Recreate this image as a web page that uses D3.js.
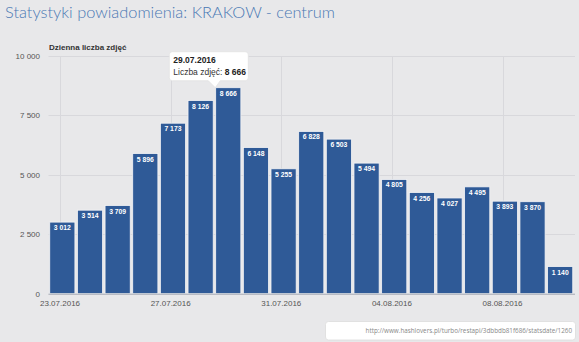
<!DOCTYPE html>
<html>
<head>
<meta charset="utf-8">
<script src="https://cdn.jsdelivr.net/npm/d3@7"></script>
<style>
  html, body { margin: 0; padding: 0; background: #e8e8ea; }
  svg { display: block; }
</style>
</head>
<body>
<svg id="chart" width="579" height="342"></svg>
<script>
// Daily photo counts, 23.07.2016 – 10.08.2016
const days = [
  "2016-07-23", "2016-07-24", "2016-07-25", "2016-07-26", "2016-07-27",
  "2016-07-28", "2016-07-29", "2016-07-30", "2016-07-31", "2016-08-01",
  "2016-08-02", "2016-08-03", "2016-08-04", "2016-08-05", "2016-08-06",
  "2016-08-07", "2016-08-08", "2016-08-09", "2016-08-10"
];
const counts = [
  3012, 3514, 3709, 5896, 7173, 8126, 8666, 6148, 5255, 6828,
  6503, 5494, 4805, 4256, 4027, 4495, 3893, 3870, 1140
];
const yTicks = [0, 2500, 5000, 7500, 10000];
const xTickLabels = ["23.07.2016", "27.07.2016", "31.07.2016", "04.08.2016", "08.08.2016"];
const tooltipIndex = 6;

const svg = d3.select("#chart");
const plot = { left: 48.5, right: 574, top: 56, bottom: 293.7 };

// Points sit at local midnight (CEST, UTC+2); ticks fall on UTC midnight.
const HOUR = 3600 * 1000;
const dayStart = s => new Date(Date.parse(s + "T00:00:00Z"));
const times = days.map(s => new Date(+dayStart(s) + 2 * HOUR));

const x = d3.scaleUtc()
  .domain([new Date(+times[0] - 12 * HOUR), new Date(+times[times.length - 1] + 12 * HOUR)])
  .range([plot.left, plot.right]);
const dayWidth = x(new Date(+times[0] + 24 * HOUR)) - x(times[0]);
const barW = dayWidth * 0.91;

const y = d3.scaleLinear().domain([0, 10000]).range([plot.bottom, plot.top]);

const fmt = v => d3.format(",")(v).replace(/,/g, " ");
const parseLabel = d3.utcParse("%d.%m.%Y");
const dateFmt = d3.utcFormat("%d.%m.%Y");
const tickDates = xTickLabels.map(parseLabel);

// Title, sized to its line width
const title = svg.append("text")
  .attr("x", 5).attr("y", 18)
  .attr("fill", "#4a78b4")
  .attr("font-family", "Lato, 'Open Sans', sans-serif")
  .attr("font-weight", 300)
  .attr("font-size", 18)
  .text("Statystyki powiadomienia: KRAKOW - centrum");
const tw = title.node().getComputedTextLength();
title.attr("font-size", 18 * 330 / tw);

const g = svg.append("g");

// Horizontal grid
g.selectAll("line.hgrid").data(yTicks).join("line")
  .attr("x1", plot.left).attr("x2", plot.right + 1)
  .attr("y1", d => Math.round(y(d)) + 0.5).attr("y2", d => Math.round(y(d)) + 0.5)
  .attr("stroke", "#d8d8dc").attr("stroke-width", 1);

// Vertical grid at date ticks
g.selectAll("line.vgrid").data(tickDates).join("line")
  .attr("x1", d => Math.round(x(d)) + 0.5).attr("x2", d => Math.round(x(d)) + 0.5)
  .attr("y1", plot.top).attr("y2", plot.bottom)
  .attr("stroke", "#d8d8dc").attr("stroke-width", 1);

// Y axis labels
g.selectAll("text.ylab").data(yTicks).join("text")
  .attr("x", 40).attr("y", d => y(d)).attr("dy", "0.35em")
  .attr("text-anchor", "end")
  .attr("font-family", "Liberation Sans, Arial, sans-serif")
  .attr("font-size", 8).attr("fill", "#555")
  .text(fmt);

// Axis title
svg.append("text")
  .attr("x", 49).attr("y", 50)
  .attr("font-family", "Liberation Sans, Arial, sans-serif")
  .attr("font-size", 8).attr("font-weight", "bold").attr("fill", "#333")
  .text("Dzienna liczba zdjęć");

// Bars
g.selectAll("rect.bar").data(counts).join("rect")
  .attr("x", (d, i) => x(times[i]) - barW / 2)
  .attr("y", d => y(d))
  .attr("width", barW)
  .attr("height", d => y(0) - y(d))
  .attr("fill", "#2f5a97")
  .attr("stroke", "#f4f4f6").attr("stroke-width", 0.8);

// Data labels
g.selectAll("text.dl").data(counts).join("text")
  .attr("x", (d, i) => x(times[i]))
  .attr("y", d => y(d) + 8)
  .attr("text-anchor", "middle")
  .attr("font-family", "Liberation Sans, Arial, sans-serif")
  .attr("font-size", 6.8).attr("font-weight", "bold")
  .attr("fill", "#fff")
  .text(fmt);

// X axis line
g.append("line")
  .attr("x1", plot.left).attr("x2", plot.right + 1)
  .attr("y1", plot.bottom + 0.5).attr("y2", plot.bottom + 0.5)
  .attr("stroke", "#a8adb8").attr("stroke-width", 1);

// X axis labels
g.selectAll("text.xlab").data(tickDates).join("text")
  .attr("x", d => x(d)).attr("y", 306)
  .attr("text-anchor", "middle")
  .attr("font-family", "Liberation Sans, Arial, sans-serif")
  .attr("font-size", 8).attr("fill", "#555")
  .text((d, i) => xTickLabels[i]);

// Tooltip for the peak day
const tipX = x(times[tooltipIndex]) - 13;
const tipY = y(counts[tooltipIndex]);
const bw = 79, bh = 29, r = 3;
const bx = tipX - 46, by = tipY - 7 - bh;
const tipPath = d3.path();
tipPath.moveTo(bx + r, by);
tipPath.lineTo(bx + bw - r, by);
tipPath.arcTo(bx + bw, by, bx + bw, by + r, r);
tipPath.lineTo(bx + bw, by + bh - r);
tipPath.arcTo(bx + bw, by + bh, bx + bw - r, by + bh, r);
tipPath.lineTo(tipX + 5, by + bh);
tipPath.lineTo(tipX, tipY);
tipPath.lineTo(tipX - 7, by + bh);
tipPath.lineTo(bx + r, by + bh);
tipPath.arcTo(bx, by + bh, bx, by + bh - r, r);
tipPath.lineTo(bx, by + r);
tipPath.arcTo(bx, by, bx + r, by, r);
tipPath.closePath();

const tip = svg.append("g");
tip.append("path").attr("d", tipPath.toString())
  .attr("fill", "#ffffff").attr("stroke", "#e2e2e2").attr("stroke-width", 0.8);
tip.append("text")
  .attr("x", bx + 4).attr("y", by + 11)
  .attr("font-family", "Liberation Sans, Arial, sans-serif")
  .attr("font-size", 8.5).attr("font-weight", "bold").attr("fill", "#222")
  .text(dateFmt(dayStart(days[tooltipIndex])));
const t2 = tip.append("text")
  .attr("x", bx + 4).attr("y", by + 23)
  .attr("font-family", "Liberation Sans, Arial, sans-serif")
  .attr("font-size", 8.5).attr("fill", "#333");
t2.append("tspan").text("Liczba zdjęć: ");
t2.append("tspan").attr("font-weight", "bold").attr("fill", "#222").text(fmt(counts[tooltipIndex]));

// Source URL box
svg.append("rect")
  .attr("x", 325.5).attr("y", 321.5).attr("width", 250).attr("height", 18.5)
  .attr("rx", 3)
  .attr("fill", "#ffffff").attr("stroke", "#dcdcdc").attr("stroke-width", 0.8);
svg.append("text")
  .attr("x", 572).attr("y", 331).attr("dy", "0.35em")
  .attr("text-anchor", "end")
  .attr("font-family", "'Open Sans', Lato, sans-serif")
  .attr("font-size", 6.3).attr("fill", "#888")
  .text("http://www.hashlovers.pl/turbo/restapi/3dbbdb81f686/statsdate/1260");
</script>
</body>
</html>
